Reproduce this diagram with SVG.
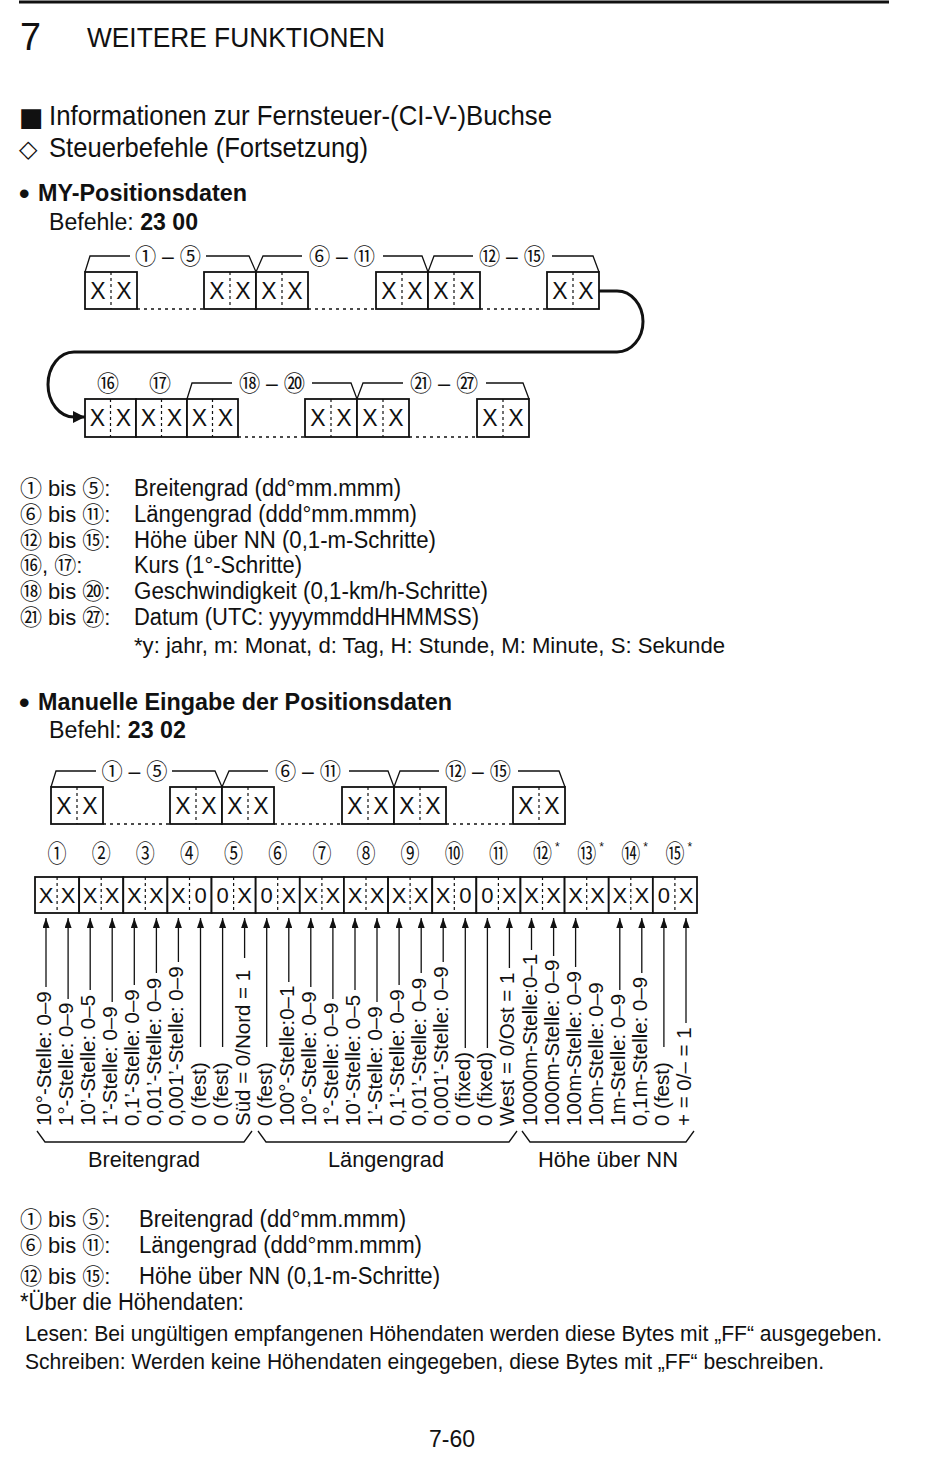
<svg xmlns="http://www.w3.org/2000/svg" width="950" height="1459" viewBox="0 0 950 1459">
<defs>
<style>
text{font-family:"Liberation Sans",Arial,"Noto Sans CJK JP",sans-serif;fill:#111}
.sym{font-family:"DejaVu Sans",sans-serif}
.b{font-weight:bold}
.box{fill:#fff;stroke:#111;stroke-width:1.8}
.dv{stroke:#111;stroke-width:1.2;stroke-dasharray:3 3}
.dot{stroke:#111;stroke-width:1.6;stroke-dasharray:3 4;fill:none}
.brk{fill:none;stroke:#111;stroke-width:1.3}
.x{font-size:23px;text-anchor:middle}
.bx{font-size:22px;text-anchor:middle}
.cl{font-size:22px;text-anchor:middle}
.cn{font-size:24px;text-anchor:middle}
.ast{font-size:12px}
.vl{font-size:20.5px}
.ar{stroke:#111;stroke-width:1.3;fill:none}
.mid{text-anchor:middle}
.lg{font-size:22px}
.ld{font-size:23.5px}
.ls{font-size:22px}
</style>
<marker id="up" viewBox="0 0 10 7" refX="10" refY="3.5" markerWidth="10" markerHeight="7" markerUnits="userSpaceOnUse" orient="auto"><path d="M0,0 L10,3.5 L0,7 z" fill="#111"/></marker>
<marker id="big" viewBox="0 0 12 12" refX="12" refY="6" markerWidth="12" markerHeight="12" markerUnits="userSpaceOnUse" orient="auto"><path d="M0,0 L12,6 L0,12 z" fill="#111"/></marker>
</defs>
<rect width="950" height="1459" fill="#fff"/>

<!-- header -->
<line x1="19" y1="2" x2="889" y2="2" stroke="#111" stroke-width="3"/>
<text x="20" y="50" style="font-size:38px" textLength="21" lengthAdjust="spacingAndGlyphs">7</text>
<text x="87" y="47" style="font-size:28px" textLength="298" lengthAdjust="spacingAndGlyphs">WEITERE FUNKTIONEN</text>
<text class="sym" x="19" y="126" style="font-size:26px">■</text>
<text x="49" y="125" style="font-size:28px" textLength="503" lengthAdjust="spacingAndGlyphs">Informationen zur Fernsteuer-(CI-V-)Buchse</text>
<text class="sym" x="19" y="157" style="font-size:24px">◇</text>
<text x="49" y="157" style="font-size:28px" textLength="319" lengthAdjust="spacingAndGlyphs">Steuerbefehle (Fortsetzung)</text>
<text class="b" x="19" y="204" style="font-size:30px">•</text>
<text class="b" x="38" y="201" style="font-size:23px" textLength="209" lengthAdjust="spacingAndGlyphs">MY-Positionsdaten</text>
<text x="49" y="230" style="font-size:23px" textLength="149" lengthAdjust="spacingAndGlyphs">Befehle: <tspan class="b">23 00</tspan></text>

<!-- diagram 1 connectors -->
<g id="d1-connectors">
<path class="brk" d="M85 272 L90 256 H130 M206 256 H249 L256 272 L263 256 H302 M383 256 H422 L428 272 L434 256 H473 M552 256 H593 L599 272"/>
<path class="brk" d="M187 399 L192 383 H232 M312 383 H351 L357 399 L363 383 H403 M486 383 H523 L529 399"/>
<path class="dot" d="M137 309 H204 M308 309 H376 M480 309 H547 M238 437 H305 M409 437 H477"/>
<path d="M599 291 H617 A26 30.5 0 0 1 617 352 H74 A26 32.5 0 0 0 74 417 H85" fill="none" stroke="#111" stroke-width="3" marker-end="url(#big)"/>
</g>
<g id="d1-labels">
<text class="cl" x="168" y="264" textLength="66" lengthAdjust="spacingAndGlyphs">① – ⑤</text>
<text class="cl" x="342" y="264" textLength="66" lengthAdjust="spacingAndGlyphs">⑥ – ⑪</text>
<text class="cl" x="512" y="264" textLength="66" lengthAdjust="spacingAndGlyphs">⑫ – ⑮</text>
<text class="cl" x="108" y="391">⑯</text>
<text class="cl" x="160" y="391">⑰</text>
<text class="cl" x="272" y="391" textLength="66" lengthAdjust="spacingAndGlyphs">⑱ – ⑳</text>
<text class="cl" x="444" y="391" textLength="68" lengthAdjust="spacingAndGlyphs">㉑ – ㉗</text>
</g>
<g id="d1-b1"><rect class="box" x="85" y="272" width="52" height="37"/><line class="dv" x1="111" y1="272" x2="111" y2="309"/><text class="x" x="98" y="299">X</text><text class="x" x="124" y="299">X</text></g>
<g id="d1-b2"><rect class="box" x="204" y="272" width="52" height="37"/><line class="dv" x1="230" y1="272" x2="230" y2="309"/><text class="x" x="217" y="299">X</text><text class="x" x="243" y="299">X</text></g>
<g id="d1-b3"><rect class="box" x="256" y="272" width="52" height="37"/><line class="dv" x1="282" y1="272" x2="282" y2="309"/><text class="x" x="269" y="299">X</text><text class="x" x="295" y="299">X</text></g>
<g id="d1-b4"><rect class="box" x="376" y="272" width="52" height="37"/><line class="dv" x1="402" y1="272" x2="402" y2="309"/><text class="x" x="389" y="299">X</text><text class="x" x="415" y="299">X</text></g>
<g id="d1-b5"><rect class="box" x="428" y="272" width="52" height="37"/><line class="dv" x1="454" y1="272" x2="454" y2="309"/><text class="x" x="441" y="299">X</text><text class="x" x="467" y="299">X</text></g>
<g id="d1-b6"><rect class="box" x="547" y="272" width="52" height="37"/><line class="dv" x1="573" y1="272" x2="573" y2="309"/><text class="x" x="560" y="299">X</text><text class="x" x="586" y="299">X</text></g>
<g id="d1-c1"><rect class="box" x="85" y="399" width="51" height="38"/><line class="dv" x1="110.5" y1="399" x2="110.5" y2="437"/><text class="x" x="97.5" y="426">X</text><text class="x" x="123.5" y="426">X</text></g>
<g id="d1-c2"><rect class="box" x="136" y="399" width="51" height="38"/><line class="dv" x1="161.5" y1="399" x2="161.5" y2="437"/><text class="x" x="148.5" y="426">X</text><text class="x" x="174.5" y="426">X</text></g>
<g id="d1-c3"><rect class="box" x="187" y="399" width="51" height="38"/><line class="dv" x1="212.5" y1="399" x2="212.5" y2="437"/><text class="x" x="199.5" y="426">X</text><text class="x" x="225.5" y="426">X</text></g>
<g id="d1-c4"><rect class="box" x="305" y="399" width="52" height="38"/><line class="dv" x1="331" y1="399" x2="331" y2="437"/><text class="x" x="318" y="426">X</text><text class="x" x="344" y="426">X</text></g>
<g id="d1-c5"><rect class="box" x="357" y="399" width="52" height="38"/><line class="dv" x1="383" y1="399" x2="383" y2="437"/><text class="x" x="370" y="426">X</text><text class="x" x="396" y="426">X</text></g>
<g id="d1-c6"><rect class="box" x="477" y="399" width="52" height="38"/><line class="dv" x1="503" y1="399" x2="503" y2="437"/><text class="x" x="490" y="426">X</text><text class="x" x="516" y="426">X</text></g>

<!-- legend 1 -->
<g>
<text class="lg" x="20" y="496">① bis ⑤:</text><text class="ld" x="134" y="496" textLength="267" lengthAdjust="spacingAndGlyphs">Breitengrad (dd°mm.mmm)</text>
<text class="lg" x="20" y="522">⑥ bis ⑪:</text><text class="ld" x="134" y="522" textLength="283" lengthAdjust="spacingAndGlyphs">Längengrad (ddd°mm.mmm)</text>
<text class="lg" x="20" y="548">⑫ bis ⑮:</text><text class="ld" x="134" y="548" textLength="302" lengthAdjust="spacingAndGlyphs">Höhe über NN (0,1-m-Schritte)</text>
<text class="lg" x="20" y="573">⑯, ⑰:</text><text class="ld" x="134" y="573" textLength="168" lengthAdjust="spacingAndGlyphs">Kurs (1°-Schritte)</text>
<text class="lg" x="20" y="599">⑱ bis ⑳:</text><text class="ld" x="134" y="599" textLength="354" lengthAdjust="spacingAndGlyphs">Geschwindigkeit (0,1-km/h-Schritte)</text>
<text class="lg" x="20" y="625">㉑ bis ㉗:</text><text class="ld" x="134" y="625" textLength="345" lengthAdjust="spacingAndGlyphs">Datum (UTC: yyyymmddHHMMSS)</text>
<text class="ls" x="134" y="653" textLength="591" lengthAdjust="spacingAndGlyphs">*y: jahr, m: Monat, d: Tag, H: Stunde, M: Minute, S: Sekunde</text>
</g>

<text class="b" x="19" y="713" style="font-size:30px">•</text>
<text class="b" x="38" y="710" style="font-size:23px" textLength="414" lengthAdjust="spacingAndGlyphs">Manuelle Eingabe der Positionsdaten</text>
<text x="49" y="738" style="font-size:23px" textLength="137" lengthAdjust="spacingAndGlyphs">Befehl: <tspan class="b">23 02</tspan></text>

<!-- diagram 2 top -->
<g id="d2-connectors">
<path class="brk" d="M51 787 L56 771 H96 M172 771 H215 L222 787 L229 771 H268 M349 771 H388 L394 787 L400 771 H439 M518 771 H559 L565 787"/>
<path class="dot" d="M103 824 H170 M274 824 H342 M446 824 H513"/>
</g>
<g id="d2-labels">
<text class="cl" x="134.5" y="779" textLength="66" lengthAdjust="spacingAndGlyphs">① – ⑤</text>
<text class="cl" x="308" y="779" textLength="66" lengthAdjust="spacingAndGlyphs">⑥ – ⑪</text>
<text class="cl" x="478" y="779" textLength="66" lengthAdjust="spacingAndGlyphs">⑫ – ⑮</text>
</g>
<g id="d2-b1"><rect class="box" x="51" y="787" width="52" height="37"/><line class="dv" x1="77" y1="787" x2="77" y2="824"/><text class="x" x="64" y="814">X</text><text class="x" x="90" y="814">X</text></g>
<g id="d2-b2"><rect class="box" x="170" y="787" width="52" height="37"/><line class="dv" x1="196" y1="787" x2="196" y2="824"/><text class="x" x="183" y="814">X</text><text class="x" x="209" y="814">X</text></g>
<g id="d2-b3"><rect class="box" x="222" y="787" width="52" height="37"/><line class="dv" x1="248" y1="787" x2="248" y2="824"/><text class="x" x="235" y="814">X</text><text class="x" x="261" y="814">X</text></g>
<g id="d2-b4"><rect class="box" x="342" y="787" width="52" height="37"/><line class="dv" x1="368" y1="787" x2="368" y2="824"/><text class="x" x="355" y="814">X</text><text class="x" x="381" y="814">X</text></g>
<g id="d2-b5"><rect class="box" x="394" y="787" width="52" height="37"/><line class="dv" x1="420" y1="787" x2="420" y2="824"/><text class="x" x="407" y="814">X</text><text class="x" x="433" y="814">X</text></g>
<g id="d2-b6"><rect class="box" x="513" y="787" width="52" height="37"/><line class="dv" x1="539" y1="787" x2="539" y2="824"/><text class="x" x="526" y="814">X</text><text class="x" x="552" y="814">X</text></g>

<!-- byte numbers -->
<g id="byte-numbers">
<text class="cn" x="57.1" y="862" textLength="19" lengthAdjust="spacingAndGlyphs">①</text>
<text class="cn" x="101.2" y="862" textLength="19" lengthAdjust="spacingAndGlyphs">②</text>
<text class="cn" x="145.3" y="862" textLength="19" lengthAdjust="spacingAndGlyphs">③</text>
<text class="cn" x="189.5" y="862" textLength="19" lengthAdjust="spacingAndGlyphs">④</text>
<text class="cn" x="233.6" y="862" textLength="19" lengthAdjust="spacingAndGlyphs">⑤</text>
<text class="cn" x="277.7" y="862" textLength="19" lengthAdjust="spacingAndGlyphs">⑥</text>
<text class="cn" x="321.9" y="862" textLength="19" lengthAdjust="spacingAndGlyphs">⑦</text>
<text class="cn" x="366" y="862" textLength="19" lengthAdjust="spacingAndGlyphs">⑧</text>
<text class="cn" x="410.1" y="862" textLength="19" lengthAdjust="spacingAndGlyphs">⑨</text>
<text class="cn" x="454.3" y="862" textLength="19" lengthAdjust="spacingAndGlyphs">⑩</text>
<text class="cn" x="498.4" y="862" textLength="19" lengthAdjust="spacingAndGlyphs">⑪</text>
<text class="cn" x="542.5" y="862" textLength="19" lengthAdjust="spacingAndGlyphs">⑫</text>
<text class="cn" x="586.7" y="862" textLength="19" lengthAdjust="spacingAndGlyphs">⑬</text>
<text class="cn" x="630.8" y="862" textLength="19" lengthAdjust="spacingAndGlyphs">⑭</text>
<text class="cn" x="674.9" y="862" textLength="19" lengthAdjust="spacingAndGlyphs">⑮</text>
<text class="ast" x="555" y="851">*</text>
<text class="ast" x="599.2" y="851">*</text>
<text class="ast" x="643.3" y="851">*</text>
<text class="ast" x="687.4" y="851">*</text>
</g>

<!-- byte row -->
<g id="byte1"><rect class="box" x="35" y="877" width="44.13" height="36"/><line class="dv" x1="57.1" y1="877" x2="57.1" y2="913"/><text class="bx" x="46" y="903">X</text><text class="bx" x="68.1" y="903">X</text></g>
<g id="byte2"><rect class="box" x="79.13" y="877" width="44.13" height="36"/><line class="dv" x1="101.2" y1="877" x2="101.2" y2="913"/><text class="bx" x="90.2" y="903">X</text><text class="bx" x="112.2" y="903">X</text></g>
<g id="byte3"><rect class="box" x="123.27" y="877" width="44.13" height="36"/><line class="dv" x1="145.3" y1="877" x2="145.3" y2="913"/><text class="bx" x="134.3" y="903">X</text><text class="bx" x="156.4" y="903">X</text></g>
<g id="byte4"><rect class="box" x="167.4" y="877" width="44.13" height="36"/><line class="dv" x1="189.5" y1="877" x2="189.5" y2="913"/><text class="bx" x="178.4" y="903">X</text><text class="bx" x="200.5" y="903">0</text></g>
<g id="byte5"><rect class="box" x="211.53" y="877" width="44.13" height="36"/><line class="dv" x1="233.6" y1="877" x2="233.6" y2="913"/><text class="bx" x="222.6" y="903">0</text><text class="bx" x="244.6" y="903">X</text></g>
<g id="byte6"><rect class="box" x="255.67" y="877" width="44.13" height="36"/><line class="dv" x1="277.7" y1="877" x2="277.7" y2="913"/><text class="bx" x="266.7" y="903">0</text><text class="bx" x="288.8" y="903">X</text></g>
<g id="byte7"><rect class="box" x="299.8" y="877" width="44.13" height="36"/><line class="dv" x1="321.9" y1="877" x2="321.9" y2="913"/><text class="bx" x="310.8" y="903">X</text><text class="bx" x="332.9" y="903">X</text></g>
<g id="byte8"><rect class="box" x="343.93" y="877" width="44.13" height="36"/><line class="dv" x1="366" y1="877" x2="366" y2="913"/><text class="bx" x="355" y="903">X</text><text class="bx" x="377" y="903">X</text></g>
<g id="byte9"><rect class="box" x="388.07" y="877" width="44.13" height="36"/><line class="dv" x1="410.1" y1="877" x2="410.1" y2="913"/><text class="bx" x="399.1" y="903">X</text><text class="bx" x="421.2" y="903">X</text></g>
<g id="byte10"><rect class="box" x="432.2" y="877" width="44.13" height="36"/><line class="dv" x1="454.3" y1="877" x2="454.3" y2="913"/><text class="bx" x="443.2" y="903">X</text><text class="bx" x="465.3" y="903">0</text></g>
<g id="byte11"><rect class="box" x="476.33" y="877" width="44.13" height="36"/><line class="dv" x1="498.4" y1="877" x2="498.4" y2="913"/><text class="bx" x="487.4" y="903">0</text><text class="bx" x="509.4" y="903">X</text></g>
<g id="byte12"><rect class="box" x="520.47" y="877" width="44.13" height="36"/><line class="dv" x1="542.5" y1="877" x2="542.5" y2="913"/><text class="bx" x="531.5" y="903">X</text><text class="bx" x="553.6" y="903">X</text></g>
<g id="byte13"><rect class="box" x="564.6" y="877" width="44.13" height="36"/><line class="dv" x1="586.7" y1="877" x2="586.7" y2="913"/><text class="bx" x="575.6" y="903">X</text><text class="bx" x="597.7" y="903">X</text></g>
<g id="byte14"><rect class="box" x="608.73" y="877" width="44.13" height="36"/><line class="dv" x1="630.8" y1="877" x2="630.8" y2="913"/><text class="bx" x="619.8" y="903">X</text><text class="bx" x="641.8" y="903">X</text></g>
<g id="byte15"><rect class="box" x="652.87" y="877" width="44.13" height="36"/><line class="dv" x1="674.9" y1="877" x2="674.9" y2="913"/><text class="bx" x="663.9" y="903">0</text><text class="bx" x="686" y="903">X</text></g>

<!-- arrows -->
<g id="byte-arrows" class="ar">
<path d="M46 987V918" marker-end="url(#up)"/>
<path d="M68.1 999V918" marker-end="url(#up)"/>
<path d="M90.2 990V918" marker-end="url(#up)"/>
<path d="M112.2 1002V918" marker-end="url(#up)"/>
<path d="M134.3 985V918" marker-end="url(#up)"/>
<path d="M156.4 973V918" marker-end="url(#up)"/>
<path d="M178.4 962V918" marker-end="url(#up)"/>
<path d="M200.5 1047V918" marker-end="url(#up)"/>
<path d="M222.6 1047V918" marker-end="url(#up)"/>
<path d="M244.6 958V918" marker-end="url(#up)"/>
<path d="M266.7 1047V918" marker-end="url(#up)"/>
<path d="M288.8 982V918" marker-end="url(#up)"/>
<path d="M310.8 987V918" marker-end="url(#up)"/>
<path d="M332.9 999V918" marker-end="url(#up)"/>
<path d="M355 990V918" marker-end="url(#up)"/>
<path d="M377 1002V918" marker-end="url(#up)"/>
<path d="M399.1 985V918" marker-end="url(#up)"/>
<path d="M421.2 973V918" marker-end="url(#up)"/>
<path d="M443.2 962V918" marker-end="url(#up)"/>
<path d="M465.3 1048V918" marker-end="url(#up)"/>
<path d="M487.4 1048V918" marker-end="url(#up)"/>
<path d="M509.4 968V918" marker-end="url(#up)"/>
<path d="M531.5 950V918" marker-end="url(#up)"/>
<path d="M553.6 956V918" marker-end="url(#up)"/>
<path d="M575.6 967V918" marker-end="url(#up)"/>
<path d="M619.8 990V918" marker-end="url(#up)"/>
<path d="M641.8 973V918" marker-end="url(#up)"/>
<path d="M663.9 1047V918" marker-end="url(#up)"/>
<path d="M686 1023V918" marker-end="url(#up)"/>
</g>

<!-- vertical labels -->
<g id="byte-labels">
<text class="vl" x="51" y="1126" transform="rotate(-90 51 1126)">10°-Stelle: 0–9</text>
<text class="vl" x="73.1" y="1126" transform="rotate(-90 73.1 1126)">1°-Stelle: 0–9</text>
<text class="vl" x="95.2" y="1126" transform="rotate(-90 95.2 1126)">10’-Stelle: 0–5</text>
<text class="vl" x="117.2" y="1126" transform="rotate(-90 117.2 1126)">1’-Stelle: 0–9</text>
<text class="vl" x="139.3" y="1126" transform="rotate(-90 139.3 1126)">0,1’-Stelle: 0–9</text>
<text class="vl" x="161.4" y="1126" transform="rotate(-90 161.4 1126)">0,01’-Stelle: 0–9</text>
<text class="vl" x="183.4" y="1126" transform="rotate(-90 183.4 1126)">0,001’-Stelle: 0–9</text>
<text class="vl" x="205.5" y="1126" transform="rotate(-90 205.5 1126)">0 (fest)</text>
<text class="vl" x="227.6" y="1126" transform="rotate(-90 227.6 1126)">0 (fest)</text>
<text class="vl" x="249.6" y="1126" transform="rotate(-90 249.6 1126)">Süd = 0/Nord = 1</text>
<text class="vl" x="271.7" y="1126" transform="rotate(-90 271.7 1126)">0 (fest)</text>
<text class="vl" x="293.8" y="1126" transform="rotate(-90 293.8 1126)">100°-Stelle:0–1</text>
<text class="vl" x="315.8" y="1126" transform="rotate(-90 315.8 1126)">10°-Stelle: 0–9</text>
<text class="vl" x="338" y="1126" transform="rotate(-90 338 1126)">1°-Stelle: 0–9</text>
<text class="vl" x="360" y="1126" transform="rotate(-90 360 1126)">10’-Stelle: 0–5</text>
<text class="vl" x="382" y="1126" transform="rotate(-90 382 1126)">1’-Stelle: 0–9</text>
<text class="vl" x="404.1" y="1126" transform="rotate(-90 404.1 1126)">0,1’-Stelle: 0–9</text>
<text class="vl" x="426.2" y="1126" transform="rotate(-90 426.2 1126)">0,01’-Stelle: 0–9</text>
<text class="vl" x="448.2" y="1126" transform="rotate(-90 448.2 1126)">0,001’-Stelle: 0–9</text>
<text class="vl" x="470.3" y="1126" transform="rotate(-90 470.3 1126)">0 (fixed)</text>
<text class="vl" x="492.4" y="1126" transform="rotate(-90 492.4 1126)">0 (fixed)</text>
<text class="vl" x="514.4" y="1126" transform="rotate(-90 514.4 1126)">West = 0/Ost = 1</text>
<text class="vl" x="536.5" y="1126" transform="rotate(-90 536.5 1126)">10000m-Stelle:0–1</text>
<text class="vl" x="558.6" y="1126" transform="rotate(-90 558.6 1126)">1000m-Stelle: 0–9</text>
<text class="vl" x="580.6" y="1126" transform="rotate(-90 580.6 1126)">100m-Stelle: 0–9</text>
<text class="vl" x="602.7" y="1126" transform="rotate(-90 602.7 1126)">10m-Stelle: 0–9</text>
<text class="vl" x="624.8" y="1126" transform="rotate(-90 624.8 1126)">1m-Stelle: 0–9</text>
<text class="vl" x="646.8" y="1126" transform="rotate(-90 646.8 1126)">0,1m-Stelle: 0–9</text>
<text class="vl" x="668.9" y="1126" transform="rotate(-90 668.9 1126)">0 (fest)</text>
<text class="vl" x="691" y="1126" transform="rotate(-90 691 1126)">+ = 0/– = 1</text>
</g>

<!-- braces -->
<g id="groups">
<path class="brk" d="M37 1131 L45 1142 H244 L252 1131 M258 1131 L266 1142 H509 L517 1131 M522 1131 L530 1142 H686 L694 1131"/>
<text class="mid" x="144" y="1167" style="font-size:22.5px" textLength="112" lengthAdjust="spacingAndGlyphs">Breitengrad</text>
<text class="mid" x="386" y="1167" style="font-size:22.5px" textLength="116" lengthAdjust="spacingAndGlyphs">Längengrad</text>
<text class="mid" x="608" y="1167" style="font-size:22.5px" textLength="140" lengthAdjust="spacingAndGlyphs">Höhe über NN</text>
</g>

<!-- legend 2 -->
<g>
<text class="lg" x="20" y="1227">① bis ⑤:</text><text class="ld" x="139" y="1227" textLength="267" lengthAdjust="spacingAndGlyphs">Breitengrad (dd°mm.mmm)</text>
<text class="lg" x="20" y="1253">⑥ bis ⑪:</text><text class="ld" x="139" y="1253" textLength="283" lengthAdjust="spacingAndGlyphs">Längengrad (ddd°mm.mmm)</text>
<text class="lg" x="20" y="1284">⑫ bis ⑮:</text><text class="ld" x="139" y="1284" textLength="301" lengthAdjust="spacingAndGlyphs">Höhe über NN (0,1-m-Schritte)</text>
<text class="ld" x="20" y="1310" textLength="224" lengthAdjust="spacingAndGlyphs">*Über die Höhendaten:</text>
<text class="ls" x="25" y="1341" textLength="857" lengthAdjust="spacingAndGlyphs">Lesen: Bei ungültigen empfangenen Höhendaten werden diese Bytes mit „FF“ ausgegeben.</text>
<text class="ls" x="25" y="1369" textLength="799" lengthAdjust="spacingAndGlyphs">Schreiben: Werden keine Höhendaten eingegeben, diese Bytes mit „FF“ beschreiben.</text>
<text class="mid" x="452" y="1447" style="font-size:23px" textLength="46" lengthAdjust="spacingAndGlyphs">7-60</text>
</g>
</svg>
